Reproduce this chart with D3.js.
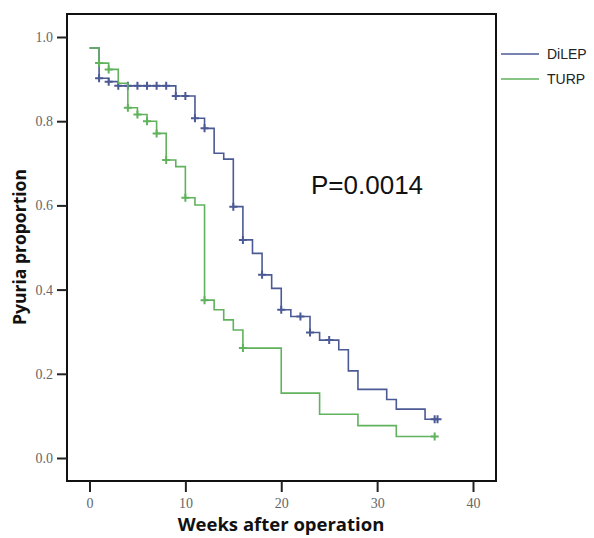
<!DOCTYPE html>
<html>
<head>
<meta charset="utf-8">
<script src="https://cdn.jsdelivr.net/npm/d3@7"></script>
<style>
  body { margin: 0; background: #fff; }
  svg { display: block; }
</style>
</head>
<body>
<svg width="594" height="538"></svg>
<script>
const width = 594;
const height = 538;

// Kaplan-Meier steps: [week, proportion]
const dilepSteps = [
  [0, 0.974], [1, 0.902], [2, 0.894], [3, 0.884], [9, 0.860], [11, 0.807],
  [12, 0.783], [13, 0.724], [14, 0.710], [15, 0.597], [16, 0.518], [17, 0.486],
  [18, 0.435], [19, 0.403], [20, 0.352], [21, 0.336], [23, 0.298], [24, 0.280],
  [26, 0.257], [27, 0.207], [28, 0.163], [31, 0.139], [32, 0.116], [35, 0.092],
  [36, 0.092]
];
const dilepCensored = [
  [1, 0.902], [2, 0.894], [3, 0.884], [4, 0.884], [5, 0.884], [6, 0.884],
  [7, 0.884], [8, 0.884], [9, 0.860], [10, 0.860], [11, 0.807], [12, 0.783],
  [15, 0.597], [16, 0.518], [18, 0.435], [20, 0.352], [22, 0.336], [23, 0.298],
  [25, 0.280], [36, 0.092], [36.3, 0.092]
];

const turpSteps = [
  [0, 0.974], [1, 0.938], [2, 0.923], [3, 0.890], [4, 0.832], [5, 0.816],
  [6, 0.800], [7, 0.771], [8, 0.708], [9, 0.692], [10, 0.618], [11, 0.601],
  [12, 0.375], [13, 0.352], [14, 0.328], [15, 0.304], [16, 0.261], [20, 0.154],
  [24, 0.104], [28, 0.077], [32, 0.051], [36, 0.051]
];
const turpCensored = [
  [1, 0.938], [2, 0.923], [4, 0.832], [5, 0.816], [6, 0.800], [7, 0.771],
  [8, 0.708], [10, 0.618], [12, 0.375], [16, 0.261], [36, 0.051]
];

const xTicks = [0, 10, 20, 30, 40];
const yTicks = [0, 0.2, 0.4, 0.6, 0.8, 1.0];
const series = ["DiLEP", "TURP"];
const colors = { DiLEP: "#4b5a94", TURP: "#60b25c" };

const frame = { left: 67, right: 496, top: 14, bottom: 481 };

let x = d3.scaleLinear().domain([0, 40]).range([89.5, 473]);
let y = d3.scaleLinear().domain([0, 1]).range([458, 37]);

const svg = d3.select("svg");

// plot frame
svg.append("rect")
  .attr("x", frame.left)
  .attr("y", frame.top)
  .attr("width", frame.right - frame.left)
  .attr("height", frame.bottom - frame.top)
  .attr("fill", "none")
  .attr("stroke", "#111")
  .attr("stroke-width", 2);

// axes
let yAxis = svg.append("g")
  .attr("transform", `translate(${frame.left},0)`)
  .call(d3.axisLeft(y).tickValues(yTicks).tickFormat(d3.format(".1f")).tickSize(10).tickPadding(4));

let xAxis = svg.append("g")
  .attr("transform", `translate(0,${frame.bottom})`)
  .call(d3.axisBottom(x).tickValues(xTicks).tickSize(11).tickPadding(6));

[yAxis, xAxis].forEach(g => {
  g.select(".domain").remove();
  g.selectAll(".tick line").attr("stroke", "#222").attr("stroke-width", 2);
  g.selectAll(".tick text")
    .attr("fill", "#666")
    .style("font-family", "'Liberation Serif', 'DejaVu Serif', serif")
    .style("font-size", "14px");
});

// axis titles
svg.append("text")
  .attr("transform", "translate(26,247) rotate(-90)")
  .attr("text-anchor", "middle")
  .style("font-family", "'Open Sans', 'DejaVu Sans', sans-serif")
  .style("font-weight", "bold")
  .style("font-size", "17.5px")
  .attr("fill", "#111")
  .text("Pyuria proportion");

svg.append("text")
  .attr("x", 281)
  .attr("y", 531)
  .attr("text-anchor", "middle")
  .style("font-family", "'Open Sans', 'DejaVu Sans', sans-serif")
  .style("font-weight", "bold")
  .style("font-size", "18.5px")
  .attr("fill", "#111")
  .text("Weeks after operation");

// curves
let line = d3.line()
  .x(d => x(d[0]))
  .y(d => y(d[1]))
  .curve(d3.curveStepAfter);

const plotData = [
  { name: "DiLEP", steps: dilepSteps, censored: dilepCensored },
  { name: "TURP", steps: turpSteps, censored: turpCensored }
];

plotData.forEach(s => {
  svg.append("path")
    .datum(s.steps)
    .attr("fill", "none")
    .attr("stroke", colors[s.name])
    .attr("stroke-width", 1.6)
    .attr("d", line);

  svg.append("g")
    .selectAll("path")
    .data(s.censored)
    .join("path")
    .attr("transform", d => `translate(${x(d[0])},${y(d[1])})`)
    .attr("d", "M-4,0H4M0,-4V4")
    .attr("stroke", colors[s.name])
    .attr("stroke-width", 2)
    .attr("fill", "none");
});

// p-value
svg.append("text")
  .attr("x", 311)
  .attr("y", 194)
  .style("font-family", "'Liberation Sans', Arial, sans-serif")
  .style("font-size", "26px")
  .attr("fill", "#111")
  .text("P=0.0014");

// legend
let legend = svg.append("g")
  .selectAll("g")
  .data(series)
  .join("g")
  .attr("transform", (d, i) => `translate(501,${54 + i * 25})`);

legend.append("line")
  .attr("x1", 0)
  .attr("x2", 38)
  .attr("stroke", d => colors[d])
  .attr("stroke-width", 1.6);

legend.append("text")
  .attr("x", 46)
  .attr("dy", "0.35em")
  .style("font-family", "'Liberation Sans', Arial, sans-serif")
  .style("font-size", "14px")
  .attr("fill", "#222")
  .text(d => d);
</script>
</body>
</html>
